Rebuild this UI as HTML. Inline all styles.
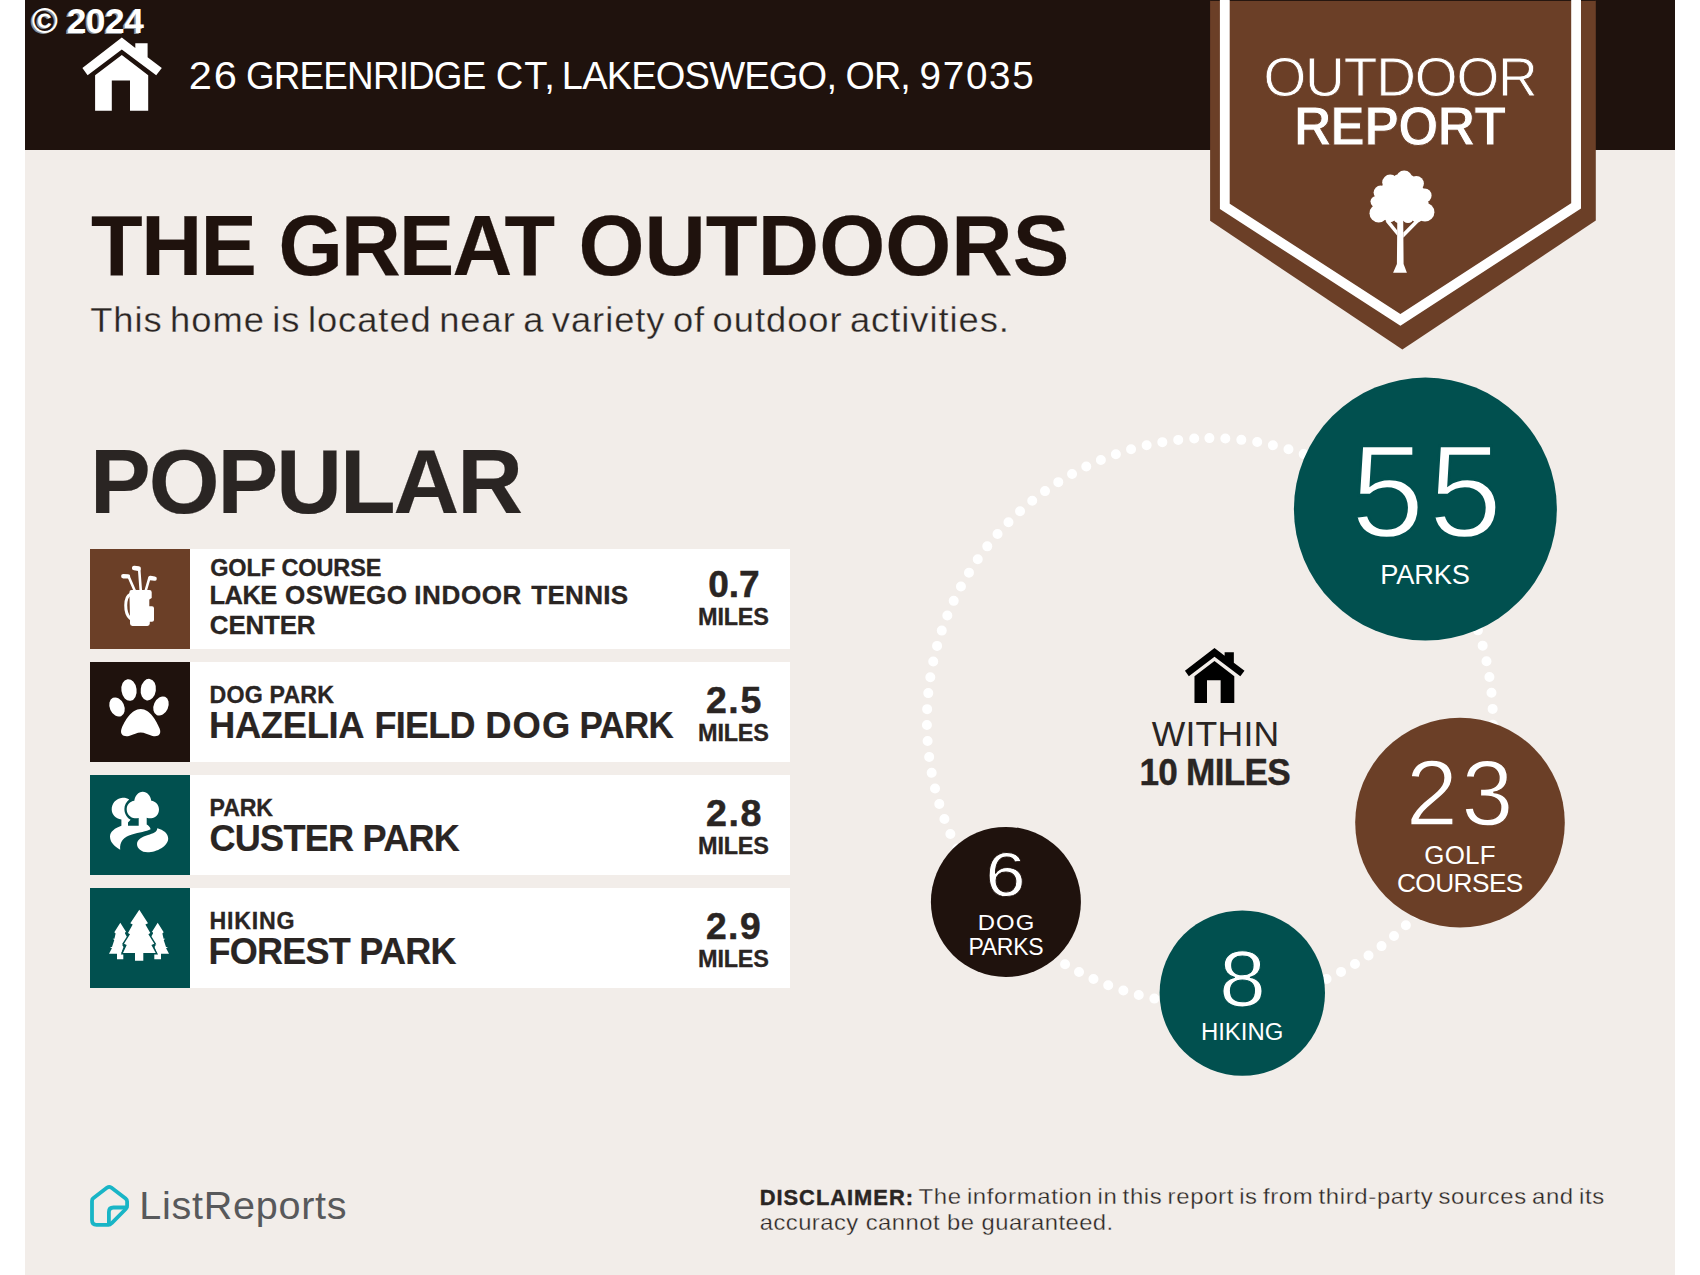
<!DOCTYPE html>
<html lang="en">
<head>
<meta charset="utf-8">
<title>Outdoor Report - 26 Greenridge Ct, Lakeoswego, OR, 97035</title>
<style>
html,body{margin:0;padding:0;background:#fff;}
body{width:1700px;height:1275px;position:relative;overflow:hidden;font-family:"Liberation Sans",Arial,sans-serif;}
.page{position:absolute;z-index:0;left:25px;top:0;width:1650px;height:1275px;background:#f2ede9;}
.hdr{position:absolute;z-index:0;left:25px;top:0;width:1650px;height:150px;background:#1f120d;}
svg.art{position:absolute;z-index:1;left:0;top:0;width:1700px;height:1275px;overflow:visible;}
.g{margin:0;padding:0;font-weight:inherit;font-size:inherit;}
.t{position:absolute;z-index:2;white-space:nowrap;line-height:1;margin:0;padding:0;font-style:normal;}
ul,li,dl,dt,dd,h1,h2,p{list-style:none;margin:0;padding:0;font-size:inherit;font-weight:inherit;}
.bar{position:absolute;z-index:0;left:190px;width:600px;height:100px;background:#fff;}
.ic{position:absolute;z-index:0;left:90px;width:100px;height:100px;}
</style>
</head>
<body>
<div class="page"></div>
<header>
<div class="hdr"></div>
<div class="t" style="left:31.80px;top:2.72px;font-size:35.36px;font-weight:700;color:#ffffff;letter-spacing:-0.503px;text-shadow:-1.6px 1px 0 #8b9097;">© 2024</div>
<div class="g"><span class="t" style="left:188.00px;top:56.75px;font-size:38.12px;font-weight:400;color:#ffffff;letter-spacing:1.715px;transform:translateX(0.82px) scaleX(1.0914);transform-origin:0 0;">26</span> <span class="t" style="left:245.00px;top:56.75px;font-size:38.12px;font-weight:400;color:#ffffff;letter-spacing:-0.839px;transform:translateX(0.99px) scaleX(0.9662);transform-origin:0 0;">GREENRIDGE</span> <span class="t" style="left:495.85px;top:56.75px;font-size:38.12px;font-weight:400;color:#ffffff;letter-spacing:0.929px;">CT,</span> <span class="t" style="left:561.00px;top:56.75px;font-size:38.12px;font-weight:400;color:#ffffff;letter-spacing:-0.826px;transform:translateX(0.80px) scaleX(0.9987);transform-origin:0 0;">LAKEOSWEGO,</span> <span class="t" style="left:845.00px;top:56.75px;font-size:38.12px;font-weight:400;color:#ffffff;letter-spacing:-0.737px;transform:translateX(0.44px) scaleX(0.9859);transform-origin:0 0;">OR,</span> <span class="t" style="left:919.00px;top:56.75px;font-size:38.12px;font-weight:400;color:#ffffff;letter-spacing:1.682px;transform:translateX(0.57px) scaleX(1.0123);transform-origin:0 0;">97035</span></div>
<div class="badge">
<div class="t" style="left:1263.45px;top:50.00px;font-size:55.00px;font-weight:400;color:#ffffff;letter-spacing:-1.118px;-webkit-text-stroke:0.80px #6b3f27;">OUTDOOR</div>
<div class="t" style="left:1293.00px;top:99.25px;font-size:55.65px;font-weight:700;color:#ffffff;letter-spacing:-1.117px;-webkit-text-stroke:1.00px #6b3f27;transform:translateX(0.69px) scaleX(0.9385);transform-origin:0 0;">REPORT</div>
</div>
</header>
<main>
<section class="intro">
<h1 class="g"><span class="t" style="left:91.00px;top:204.00px;font-size:84.86px;font-weight:700;color:#1f120d;letter-spacing:-1.604px;-webkit-text-stroke:0.20px #1f120d;transform:translateX(0.12px) scaleX(0.9961);transform-origin:0 0;">THE</span> <span class="t" style="left:278.00px;top:204.00px;font-size:84.86px;font-weight:700;color:#1f120d;letter-spacing:-1.728px;-webkit-text-stroke:0.20px #1f120d;transform:translateX(0.40px) scaleX(0.9747);transform-origin:0 0;">GREAT</span> <span class="t" style="left:578.39px;top:204.00px;font-size:84.86px;font-weight:700;color:#1f120d;letter-spacing:0.094px;-webkit-text-stroke:0.20px #1f120d;">OUTDOORS</span></h1>
<p class="t" style="left:90.00px;top:303.20px;font-size:34.64px;font-weight:400;color:#2a2523;letter-spacing:0.892px;word-spacing:-3.383px;-webkit-text-stroke:0.30px #f2ede9;transform:translateX(0.20px) scaleX(1.0500);transform-origin:0 0;">This home is located near a variety of outdoor activities.</p>
</section>
<section class="popular">
<h2 class="t" style="left:89.00px;top:436.00px;font-size:91.01px;font-weight:700;color:#2a2523;letter-spacing:-1.948px;-webkit-text-stroke:0.20px #2a2523;transform:translateX(0.98px) scaleX(0.9996);transform-origin:0 0;">POPULAR</h2>
<ul>
<li><span class="bar" style="top:549px"></span><span class="ic" style="top:549px;background:#6b3f27"></span>
<div class="t" style="left:210.14px;top:557.00px;font-size:23.48px;font-weight:700;color:#2a2523;letter-spacing:-0.081px;-webkit-text-stroke:0.30px #2a2523;">GOLF COURSE</div>
<div class="g"><span class="t" style="left:209.00px;top:581.55px;font-size:26.09px;font-weight:700;color:#2a2523;letter-spacing:-0.561px;-webkit-text-stroke:0.30px #2a2523;transform:translateX(0.55px) scaleX(0.9789);transform-origin:0 0;">LAKE</span> <span class="t" style="left:285.09px;top:581.55px;font-size:26.09px;font-weight:700;color:#2a2523;letter-spacing:0.337px;-webkit-text-stroke:0.30px #2a2523;">OSWEGO</span> <span class="t" style="left:414.25px;top:581.55px;font-size:26.09px;font-weight:700;color:#2a2523;letter-spacing:0.573px;-webkit-text-stroke:0.30px #2a2523;">INDOOR</span> <span class="t" style="left:531.30px;top:581.55px;font-size:26.09px;font-weight:700;color:#2a2523;letter-spacing:0.227px;-webkit-text-stroke:0.30px #2a2523;">TENNIS</span></div>
<div class="t" style="left:209.86px;top:612.85px;font-size:25.87px;font-weight:700;color:#2a2523;letter-spacing:-0.135px;-webkit-text-stroke:0.30px #2a2523;">CENTER</div>
<div class="t" style="left:708.14px;top:565.75px;font-size:37.06px;font-weight:700;color:#2a2523;letter-spacing:0.010px;-webkit-text-stroke:0.50px #2a2523;">0.7</div>
<div class="t" style="left:698.09px;top:605.75px;font-size:23.48px;font-weight:700;color:#2a2523;letter-spacing:-0.245px;-webkit-text-stroke:0.30px #2a2523;">MILES</div>
</li>
<li><span class="bar" style="top:662px"></span><span class="ic" style="top:662px;background:#1f120d"></span>
<div class="t" style="left:209.62px;top:684.25px;font-size:23.19px;font-weight:700;color:#2a2523;letter-spacing:0.154px;-webkit-text-stroke:0.30px #2a2523;">DOG PARK</div>
<div class="g"><span class="t" style="left:209.04px;top:708.00px;font-size:36.38px;font-weight:700;color:#2a2523;letter-spacing:-0.350px;-webkit-text-stroke:0.20px #2a2523;">HAZELIA</span> <span class="t" style="left:374.00px;top:708.00px;font-size:36.38px;font-weight:700;color:#2a2523;letter-spacing:-0.721px;-webkit-text-stroke:0.20px #2a2523;transform:translateX(0.44px) scaleX(0.9892);transform-origin:0 0;">FIELD</span> <span class="t" style="left:485.17px;top:708.00px;font-size:36.38px;font-weight:700;color:#2a2523;letter-spacing:1.149px;-webkit-text-stroke:0.20px #2a2523;">DOG</span> <span class="t" style="left:579.00px;top:708.00px;font-size:36.38px;font-weight:700;color:#2a2523;letter-spacing:-0.725px;-webkit-text-stroke:0.20px #2a2523;transform:translateX(0.41px) scaleX(0.9611);transform-origin:0 0;">PARK</span></div>
<div class="t" style="left:705.00px;top:682.25px;font-size:37.06px;font-weight:700;color:#2a2523;letter-spacing:1.656px;-webkit-text-stroke:0.50px #2a2523;transform:translateX(0.88px) scaleX(1.0100);transform-origin:0 0;">2.5</div>
<div class="t" style="left:698.09px;top:721.75px;font-size:23.48px;font-weight:700;color:#2a2523;letter-spacing:-0.245px;-webkit-text-stroke:0.30px #2a2523;">MILES</div>
</li>
<li><span class="bar" style="top:775px"></span><span class="ic" style="top:775px;background:#01504f"></span>
<div class="t" style="left:209.62px;top:797.25px;font-size:23.19px;font-weight:700;color:#2a2523;letter-spacing:-0.201px;-webkit-text-stroke:0.30px #2a2523;">PARK</div>
<div class="t" style="left:209.00px;top:821.00px;font-size:36.38px;font-weight:700;color:#2a2523;letter-spacing:-0.779px;-webkit-text-stroke:0.20px #2a2523;transform:translateX(0.48px) scaleX(0.9924);transform-origin:0 0;">CUSTER PARK</div>
<div class="t" style="left:705.00px;top:795.25px;font-size:37.06px;font-weight:700;color:#2a2523;letter-spacing:1.668px;-webkit-text-stroke:0.50px #2a2523;transform:translateX(0.88px) scaleX(1.0143);transform-origin:0 0;">2.8</div>
<div class="t" style="left:698.09px;top:834.75px;font-size:23.48px;font-weight:700;color:#2a2523;letter-spacing:-0.245px;-webkit-text-stroke:0.30px #2a2523;">MILES</div>
</li>
<li><span class="bar" style="top:888px"></span><span class="ic" style="top:888px;background:#01504f"></span>
<div class="t" style="left:209.62px;top:910.25px;font-size:23.19px;font-weight:700;color:#2a2523;letter-spacing:0.740px;-webkit-text-stroke:0.30px #2a2523;">HIKING</div>
<div class="t" style="left:208.00px;top:934.00px;font-size:36.38px;font-weight:700;color:#2a2523;letter-spacing:-0.777px;-webkit-text-stroke:0.20px #2a2523;transform:translateX(0.54px) scaleX(0.9906);transform-origin:0 0;">FOREST PARK</div>
<div class="t" style="left:705.00px;top:908.25px;font-size:37.06px;font-weight:700;color:#2a2523;letter-spacing:1.459px;-webkit-text-stroke:0.50px #2a2523;transform:translateX(0.94px) scaleX(1.0044);transform-origin:0 0;">2.9</div>
<div class="t" style="left:698.09px;top:947.75px;font-size:23.48px;font-weight:700;color:#2a2523;letter-spacing:-0.245px;-webkit-text-stroke:0.30px #2a2523;">MILES</div>
</li>
</ul>
</section>
<section class="nearby">
<div class="t" style="left:1151.67px;top:717.15px;font-size:35.51px;font-weight:400;color:#2a2523;letter-spacing:0.282px;">WITHIN</div>
<div class="t" style="left:1139.00px;top:753.80px;font-size:37.54px;font-weight:700;color:#2a2523;letter-spacing:-0.802px;-webkit-text-stroke:0.40px #2a2523;transform:translateX(0.43px) scaleX(0.9376);transform-origin:0 0;">10 MILES</div>
<ul>
<li><span class="t" style="left:1350.91px;top:425.50px;font-size:131.85px;font-weight:400;color:#ffffff;letter-spacing:4.580px;-webkit-text-stroke:2.40px #01504f;">55</span> <span class="t" style="left:1380.26px;top:560.50px;font-size:27.25px;font-weight:400;color:#ffffff;letter-spacing:-0.201px;">PARKS</span></li>
<li><span class="t" style="left:1405.00px;top:747.00px;font-size:92.71px;font-weight:400;color:#ffffff;letter-spacing:3.848px;-webkit-text-stroke:1.40px #6b3f27;transform:translateX(0.90px) scaleX(1.0040);transform-origin:0 0;">23</span> <span class="t" style="left:1424.31px;top:843.25px;font-size:25.94px;font-weight:400;color:#ffffff;letter-spacing:0.197px;">GOLF</span> <span class="t" style="left:1396.96px;top:869.75px;font-size:26.23px;font-weight:400;color:#ffffff;letter-spacing:-0.542px;">COURSES</span></li>
<li><span class="t" style="left:985.00px;top:842.70px;font-size:62.88px;font-weight:400;color:#ffffff;-webkit-text-stroke:0.80px #1f120d;transform:translateX(0.46px) scaleX(1.1417);transform-origin:0 0;">6</span> <span class="t" style="left:977.00px;top:912.05px;font-size:22.17px;font-weight:400;color:#ffffff;letter-spacing:0.969px;transform:translateX(0.82px) scaleX(1.0776);transform-origin:0 0;">DOG</span> <span class="t" style="left:968.38px;top:935.50px;font-size:23.04px;font-weight:400;color:#ffffff;letter-spacing:-0.288px;">PARKS</span></li>
<li><span class="t" style="left:1219.00px;top:939.01px;font-size:79.73px;font-weight:400;color:#ffffff;-webkit-text-stroke:1.10px #01504f;transform:translateX(0.26px) scaleX(1.0475);transform-origin:0 0;">8</span> <span class="t" style="left:1200.92px;top:1019.75px;font-size:23.91px;font-weight:400;color:#ffffff;letter-spacing:0.002px;">HIKING</span></li>
</ul>
</section>
</main>
<footer>
<div class="t" style="left:139.00px;top:1186.55px;font-size:38.12px;font-weight:400;color:#58595b;letter-spacing:0.717px;transform:translateX(0.16px) scaleX(1.0376);transform-origin:0 0;">ListReports</div>
<p><b class="t" style="left:759.00px;top:1186.55px;font-size:21.16px;font-weight:700;color:#2a2523;letter-spacing:0.952px;-webkit-text-stroke:0.40px #2a2523;transform:translateX(0.65px) scaleX(1.0346);transform-origin:0 0;">DISCLAIMER:</b> <span class="t" style="left:918.00px;top:1186.05px;font-size:22.17px;font-weight:400;color:#2a2523;letter-spacing:0.599px;word-spacing:-1.978px;-webkit-text-stroke:0.30px #f2ede9;transform:translateX(0.57px) scaleX(1.0800);transform-origin:0 0;">The information in this report is from third-party sources and its</span> <span class="t" style="left:759.00px;top:1211.50px;font-size:22.17px;font-weight:400;color:#2a2523;letter-spacing:0.431px;-webkit-text-stroke:0.30px #f2ede9;transform:translateX(0.72px) scaleX(1.0741);transform-origin:0 0;">accuracy cannot be guaranteed.</span></p>
</footer>
<svg class="art" viewBox="0 0 1700 1275" aria-hidden="true">
<!-- header house -->
<g fill="#fff"><path d="M121.8,37.6 L135.3,48 L135.3,43.3 L147.6,43.3 L147.6,57.3 L161.8,68.1 L156.2,75.2 L121.8,49.4 L87.6,75.2 L82.4,68.1 Z"/><path d="M121.8,55.1 L148.2,75.3 L148.2,110.8 L130,110.8 L130,80.6 L111.8,80.6 L111.8,110.8 L95.1,110.8 L95.1,75.3 Z"/></g>
<!-- badge -->
<path d="M1210.1,0 L1595.8,0 L1595.8,220.6 L1402.4,349.6 L1210.1,220.8 Z" fill="#6b3f27"/>
<rect x="1210.1" y="0" width="385.7" height="0.9" fill="#1f120d"/>
<path d="M1224.8,0 L1224.8,206.3 L1400.4,319.9 L1576.1,205.8 L1576.1,0" fill="none" stroke="#fff" stroke-width="9.8" stroke-linejoin="miter"/>
<g fill="#fff"><circle cx="1404.2" cy="178.7" r="8.2"/><circle cx="1416.3" cy="183.6" r="7.6"/><circle cx="1424.7" cy="195.5" r="6.9"/><circle cx="1425" cy="212.2" r="9.4"/><circle cx="1378.7" cy="213.2" r="9.2"/><circle cx="1376.1" cy="201.6" r="5.6"/><circle cx="1380.6" cy="192.6" r="7.0"/><circle cx="1390.2" cy="182.6" r="8.0"/><circle cx="1417" cy="216.5" r="6"/><circle cx="1408" cy="217.5" r="5.6"/><circle cx="1399" cy="217.5" r="5.6"/><circle cx="1390" cy="216.3" r="6"/><path d="M1396.1,174.7 L1412.7,175.7 L1423.5,188.4 L1428.4,202.2 L1427.5,219 L1378.4,219 L1373,206.1 L1374.5,197.3 L1382.4,185.5 Z"/><path d="M1397.3,218 L1403.2,218 L1403.6,264 L1406.9,272.7 L1393.1,272.7 L1396.9,264 Z"/><path d="M1385.6,221.6 L1397.3,235.8 L1397.3,230.6 L1389,220 Z M1418.8,221.9 L1403.3,237.8 L1403.3,232.6 L1415.4,220.3 Z"/></g>
<!-- dotted ring -->
<circle cx="1209.9" cy="721.1" r="283.0" fill="none" stroke="#fff" stroke-width="10" stroke-linecap="round" stroke-dasharray="0 16.0193" transform="rotate(-90.1 1209.9 721.1)"/>
<circle cx="1425.4" cy="509.1" r="131.5" fill="#01504f"/>
<circle cx="1460" cy="822.6" r="104.8" fill="#6b3f27"/>
<circle cx="1005.9" cy="901.9" r="75" fill="#1f120d"/>
<circle cx="1242.3" cy="993.1" r="82.7" fill="#01504f"/>
<!-- small house -->
<g fill="#000" transform="translate(1214.5 648) scale(0.75) translate(-121.8 -37.6)"><path d="M121.8,37.6 L135.3,48 L135.3,43.3 L147.6,43.3 L147.6,57.3 L161.8,68.1 L156.2,75.2 L121.8,49.4 L87.6,75.2 L82.4,68.1 Z"/><path d="M121.8,55.1 L148.2,75.3 L148.2,110.8 L130,110.8 L130,80.6 L111.8,80.6 L111.8,110.8 L95.1,110.8 L95.1,75.3 Z"/></g>
<!-- row icons -->
<g fill="#fff" stroke="none">
<path d="M131.6,590 L149.5,590 Q151.7,590 151.7,592.2 L151.7,598 L149.3,599.5 L149.3,606.3 L152,606.3 Q154,606.3 154,608.3 L154,620 Q154,621.8 152,621.8 L149.8,621.8 L149.8,623.6 Q149.8,626 147.4,626 L132.4,626 Q130,626 130,623.6 L130,619 L129.4,592.2 Q129.4,590 131.6,590 Z"/>
</g>
<g fill="none" stroke="#fff" stroke-linecap="round" stroke-linejoin="round">
<path d="M130.2,594.3 C124.5,597 124,613 130.2,618.5" stroke-width="3"/>
<path d="M128.9,577.2 L134.9,591" stroke-width="2.6"/>
<path d="M139.2,569.6 L140.8,591" stroke-width="2.6"/>
<path d="M149.2,578.6 L145.6,591" stroke-width="2.6"/>
<path d="M123.3,576.2 L128,576.4" stroke-width="4.4"/>
<path d="M134.2,568 L138.6,568.6" stroke-width="4.6"/>
<path d="M150.3,578 L154.6,578.6" stroke-width="4.4"/>
</g>
<g fill="#fff">
<ellipse cx="129" cy="690" rx="7.6" ry="10.9" transform="rotate(-8 129 690)"/>
<ellipse cx="148.3" cy="689.7" rx="7.6" ry="10.9" transform="rotate(8 148.3 689.7)"/>
<ellipse cx="117" cy="707" rx="7.2" ry="10" transform="rotate(-24 117 707)"/>
<ellipse cx="161" cy="706" rx="7.2" ry="10" transform="rotate(24 161 706)"/>
<path d="M140.7,709 C150,709 156.5,721 159.6,728.5 C162,734.8 157.5,737.2 152.5,735.9 C147.5,734.5 144.5,732.6 140.7,732.6 C137,732.6 134,734.5 129,735.9 C124,737.2 119.4,734.8 121.6,728.5 C124.6,721 131.4,709 140.7,709 Z"/>
</g>
<g fill="#fff">
<path d="M121.4,825.7 L121.4,819.5 C115.5,818.5 111.7,814.5 111.7,809.5 C111.7,803.5 116,798.3 122.5,797.7 C125,797.5 127.3,798.2 129.2,799.4 C126.2,801.6 124.4,805.2 124.4,809 C124.4,814.5 127.5,818 130.6,819.8 L128,822.5 L128,825.7 L138.7,825.7 L138.7,817.9 C137.4,818.2 136,818.3 134.8,818.2 C130.5,818 126.7,814.3 126.7,809.3 C126.7,804.6 130,801.3 134.3,800.7 C135,796 138.3,791.8 142.7,791.8 C147.3,791.8 150.6,795.8 151.3,800.8 C155.6,801.3 159,805 159,809.5 C159,814.5 155.3,818 151.3,818.2 C149.7,818.3 148.2,818.1 146.7,817.7 L146.7,824.5 C148.3,825.5 150.4,827 150.6,829.3 C146.5,831.5 139,832.5 132,834.5 C123.5,837 119.5,841.5 120.2,849.7 C113.5,846 110,841.5 110,836.5 C110,831.5 115,828 121.4,825.7 Z"/>
<path d="M157.3,828.3 C163.5,830 168.2,833.5 168.2,838.5 C168.2,846 157,852.3 147.5,852.3 C141.5,852.3 137,848.5 137,844 C137,839.5 142,836.8 148,835 C153,833.5 157.2,832.3 157.3,828.3 Z"/>
</g>
<g fill="#fff">
<path d="M120.3,922.7 L126.3,932.3 L125,932.3 L125,933.6 L128,938.7 L124.5,945 L122.2,945 L123.5,947 L121.3,953 L123.3,953.7 L123.3,959.3 L117,959.3 L117,953.7 L109,953.7 L111.9,948.3 L110,947 L112,947 L114.3,940 L112.7,938.7 L114.4,938.7 L115.6,933.6 L114.3,932.3 Z"/>
<path d="M157.7,922.7 L151.7,932.3 L153,932.3 L153,933.6 L150,938.7 L153.5,945 L155.8,945 L154.5,947 L156.7,953 L154.3,953.7 L154.3,959.3 L161,959.3 L161,953.7 L169,953.7 L166.1,948.3 L168,947 L166,947 L163.7,940 L165.3,938.7 L163.6,938.7 L162.4,933.6 L163.7,932.3 Z"/>
<path d="M139.3,909.7 L148,923.3 L145.4,924.6 L150.3,933 L148.4,934.3 L154.3,943.7 L151.4,945 L155.7,953 L143.3,953 L143.3,960.7 L135,960.7 L135,953 L123,953 L126.7,945 L124,943.7 L130,934.3 L128,933 L132.7,924.6 L130.3,923.3 Z" stroke="#01504f" stroke-width="2.8" paint-order="stroke fill"/>
</g>
<!-- logo -->
<g fill="none" stroke="#19b5c6" stroke-width="3.8" stroke-linejoin="round" stroke-linecap="round">
<path d="M92,1201 L92,1220 Q92,1224.9 96.5,1224.9 L108.5,1224.9 Q110,1224.9 111.5,1223.3 L125.8,1209 Q127.1,1207.7 127.1,1206 L127.1,1201.5 Q127.1,1199.8 125.6,1198.6 L111.2,1187.6 Q109.2,1186.2 107.2,1187.6 L93.2,1198.3 Q92,1199.3 92,1201 Z"/>
<path d="M126.5,1207.5 L113.5,1207.5 Q108.9,1207.5 108.9,1212 L108.9,1223.5"/>
</g>
</svg>
</body>
</html>
